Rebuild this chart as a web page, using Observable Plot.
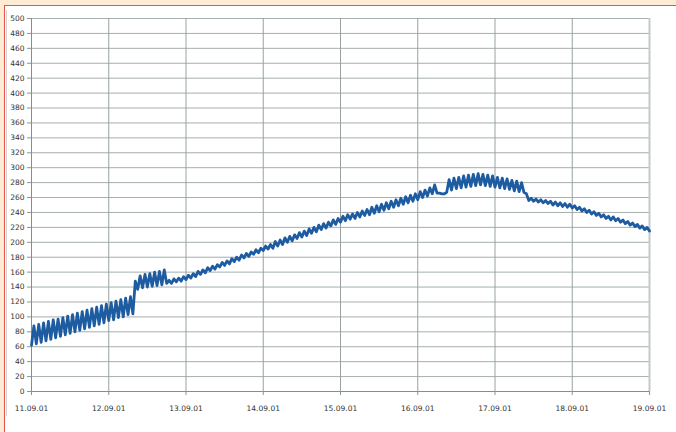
<!DOCTYPE html>
<html>
<head>
<meta charset="utf-8">
<script src="https://cdn.jsdelivr.net/npm/d3@7"></script>
<script src="https://cdn.jsdelivr.net/npm/@observablehq/plot@0.6"></script>
<style>
  html, body { margin: 0; padding: 0; width: 676px; height: 432px; overflow: hidden; background: #fdebd3; }
  #sheet { position: absolute; left: 4px; top: 5px; width: 700px; height: 440px; background: #fff;
           border-left: 1px solid #e4564f; border-top: 1px solid #e4564f; }
  #edge { position: absolute; left: 6px; top: 10px; width: 1px; height: 406px; background: #d4d6d6; }
  #chart { position: absolute; left: 0; top: 0; }
</style>
</head>
<body>
<div id="sheet"></div>
<div id="edge"></div>
<div id="chart"></div>
<script>
// Sampling: one reading every 45 minutes starting 11.09.01 00:00
const startTime = "2001-09-11T00:00:00Z";
const stepMinutes = 45;

// Readings, segment by segment
const phaseA = [62,88,64,90,66,92,68,94,70,96,72,97,74,99,76,101,78,103,80,105,82,107,84,109,86,111,88,113,90,115,92,117,95,119,96,121,99,123,100,125,103,127,104];
const phaseB = [148,137,155,139,157,140,158,141,160,142,161,143,163];
const phaseC1 = [145,149,145,151,147,152,148,154,150,156,152,158,154,161,157,163,159,166,162,168,164,170,167,173,169,175,171,178,174,180,176,183,179,185,181,187,184,190,186,192,189,195,191,197];
const phaseC2 = [192,201,195,203,197,206,200,208,202,210,205,213,207,215,209,218,212,220,214,223,217,225,219,227,222,230,224,232,227,235,229,237,231,238,232,240,234,242,236,244,237,247,239,249,241,251,243,253,245,255,247,257,249,259,251,261,253,263,255,265,257,268,260,270,262,273,265,277,266,266,265,265,267];
const phaseD = [284,270,286,272,287,273,289,274,290,275,291,276,292,277,291,276,290,275,289,274,287,273,286,272,285,271,283,269,282,268,280,267,265];
const phaseE = [256,259,255,258,254,257,253,256,252,255,250,254,249,253,248,252,247,251,246,249,244,247,242,245,240,243,238,241,236,239,234,237,232,235,230,234,229,232,227,230,225,228,223,226,221,224,219,222,217,220,215];

const dayTicks = ["2001-09-11","2001-09-12","2001-09-13","2001-09-14","2001-09-15","2001-09-16","2001-09-17","2001-09-18","2001-09-19"];
const yTicks = [0,20,40,60,80,100,120,140,160,180,200,220,240,260,280,300,320,340,360,380,400,420,440,460,480,500];

const readings = [...phaseA, ...phaseB, ...phaseC1, ...phaseC2, ...phaseD, ...phaseE];
const t0 = new Date(startTime).getTime();
const series = readings.map((v, i) => ({t: new Date(t0 + i * stepMinutes * 60000), v}));
const days = dayTicks.map(d => new Date(d + "T00:00:00Z"));
const fmt = d3.utcFormat("%d.%m.%y");

const chart = Plot.plot({
  width: 676,
  height: 432,
  marginLeft: 31,
  marginRight: 27,
  marginTop: 18,
  marginBottom: 41,
  style: {background: "transparent", fontFamily: "'DejaVu Sans', sans-serif", fontSize: "7.5px", color: "#333"},
  x: {type: "utc", domain: [days[0], days[days.length - 1]]},
  y: {domain: [0, 500]},
  marks: [
    Plot.ruleY(yTicks, {stroke: "#a6aeae", strokeWidth: 1}),
    Plot.ruleX(days.slice(1, -1), {stroke: "#98a2a2", strokeWidth: 1}),
    Plot.ruleX([days[days.length - 1]], {stroke: "#c2caca", strokeWidth: 2}),
    Plot.ruleY([0], {stroke: "#858e8e", strokeWidth: 1}),
    Plot.ruleX([days[0]], {stroke: "#858e8e", strokeWidth: 1}),
    Plot.axisY({ticks: yTicks, tickSize: 4, tickPadding: 3, stroke: "#8a9494", fill: "#333", label: null}),
    Plot.axisX({ticks: days, tickFormat: fmt, tickSize: 4, tickPadding: 10, stroke: "#8a9494", fill: "#333", label: null}),
    Plot.line(series, {x: "t", y: "v", stroke: "#1e5ca2", strokeWidth: 2.8, strokeLinejoin: "round", strokeLinecap: "round"})
  ]
});
document.getElementById("chart").appendChild(chart);
</script>
</body>
</html>
